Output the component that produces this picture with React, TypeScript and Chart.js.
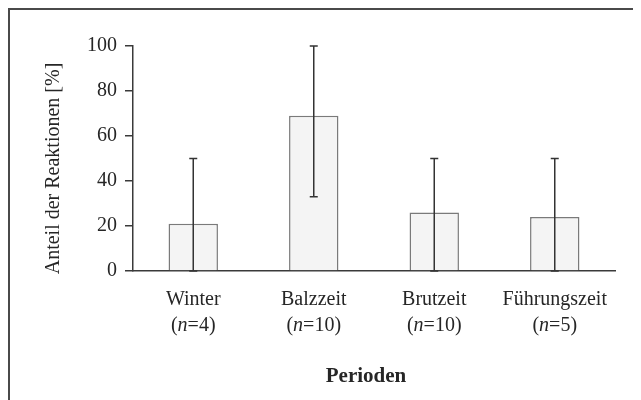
import React, { useEffect, useRef } from "react";
import { Chart, registerables } from "chart.js";

Chart.register(...registerables);

const categories = ["Winter", "Balzzeit", "Brutzeit", "Führungszeit"];
const sampleSizes = ["4", "10", "10", "5"];
const values = [21, 69, 26, 24];
const errorLow = [0, 33, 0, 0];
const errorHigh = [50, 100, 50, 50];
const yTicks = [0, 20, 40, 60, 80, 100];
const yTitle = "Anteil der Reaktionen [%]";
const xTitle = "Perioden";

const FONT = '"Liberation Serif", "Times New Roman", serif';
const TEXT = "#262626";
const AXIS = "#3a3a3a";

const customPlugin = {
  id: "customDraw",
  beforeDraw(chart: any) {
    const ctx = chart.ctx;
    ctx.save();
    ctx.fillStyle = "#ffffff";
    ctx.fillRect(0, 0, chart.width, chart.height);
    ctx.restore();
  },
  afterDatasetsDraw(chart: any) {
    const ctx = chart.ctx;
    const xs = chart.scales.x;
    const ys = chart.scales.y;
    ctx.save();
    ctx.strokeStyle = "#333333";
    ctx.lineWidth = 1.5;
    categories.forEach((_, i) => {
      const x = xs.getPixelForValue(i);
      const yl = ys.getPixelForValue(errorLow[i]);
      const yh = ys.getPixelForValue(errorHigh[i]);
      ctx.beginPath();
      ctx.moveTo(x, yl);
      ctx.lineTo(x, yh);
      ctx.moveTo(x - 4, yh);
      ctx.lineTo(x + 4, yh);
      ctx.moveTo(x - 4, yl);
      ctx.lineTo(x + 4, yl);
      ctx.stroke();
    });
    ctx.restore();
  },
  afterDraw(chart: any) {
    const ctx = chart.ctx;
    const xs = chart.scales.x;
    const area = chart.chartArea;
    ctx.save();
    // frame (top and left)
    ctx.strokeStyle = "#4a4a4a";
    ctx.lineWidth = 2;
    ctx.beginPath();
    ctx.moveTo(1, chart.height);
    ctx.lineTo(1, 1);
    ctx.lineTo(chart.width, 1);
    ctx.stroke();

    ctx.fillStyle = TEXT;
    ctx.textBaseline = "alphabetic";
    const normal = `20px ${FONT}`;
    const italic = `italic 20px ${FONT}`;
    categories.forEach((cat, i) => {
      const x = xs.getPixelForValue(i);
      ctx.font = normal;
      ctx.textAlign = "center";
      ctx.fillText(cat, x, area.bottom + 34);
      // second line: (n=..)
      const p1 = "(";
      const p2 = "n";
      const p3 = "=" + sampleSizes[i] + ")";
      ctx.font = normal;
      const w1 = ctx.measureText(p1).width;
      const w3 = ctx.measureText(p3).width;
      ctx.font = italic;
      const w2 = ctx.measureText(p2).width;
      let cx = x - (w1 + w2 + w3) / 2;
      const by = area.bottom + 60;
      ctx.textAlign = "left";
      ctx.font = normal;
      ctx.fillText(p1, cx, by);
      cx += w1;
      ctx.font = italic;
      ctx.fillText(p2, cx, by);
      cx += w2;
      ctx.font = normal;
      ctx.fillText(p3, cx, by);
    });

    // x title
    ctx.font = `bold 21px ${FONT}`;
    ctx.textAlign = "center";
    ctx.fillText(xTitle, (area.left + area.right) / 2 - 8, area.bottom + 111);

    // y title
    ctx.translate(51, (area.top + area.bottom) / 2 + 10);
    ctx.rotate(-Math.PI / 2);
    ctx.font = normal;
    ctx.textAlign = "center";
    ctx.fillText(yTitle, 0, 0);
    ctx.restore();
  },
};

export default function App() {
  const ref = useRef<HTMLCanvasElement | null>(null);
  useEffect(() => {
    if (!ref.current) return;
    const chart = new Chart(ref.current, {
      type: "bar",
      data: {
        labels: categories,
        datasets: [
          {
            data: values,
            backgroundColor: "#f4f4f4",
            borderColor: "#7a7a7a",
            borderWidth: 1.5,
            barPercentage: 0.41,
            categoryPercentage: 1,
          },
        ],
      },
      options: {
        responsive: false,
        animation: false,
        layout: { padding: { top: 38, right: 26, left: 0, bottom: 0 } },
        plugins: {
          legend: { display: false },
          tooltip: { enabled: false },
        },
        scales: {
          x: {
            offset: true,
            grid: { display: false },
            border: { display: true, color: AXIS, width: 1.5 },
            ticks: { display: false },
            afterFit: (s: any) => {
              s.height = 129;
            },
          },
          y: {
            min: 0,
            max: 100,
            afterBuildTicks: (s: any) => {
              s.ticks = yTicks.map((v) => ({ value: v }));
            },
            grid: {
              display: true,
              drawOnChartArea: false,
              drawTicks: true,
              tickLength: 8,
              color: AXIS,
              lineWidth: 1.5,
            },
            border: { display: true, color: AXIS, width: 1.5 },
            ticks: {
              padding: 8,
              color: TEXT,
              font: { family: FONT, size: 20 },
            },
            afterFit: (s: any) => {
              s.width = 125;
            },
          },
        },
      },
      plugins: [customPlugin],
    } as any);
    return () => chart.destroy();
  }, []);
  return <canvas ref={ref} width={633} height={392} style={{ display: "block" }} />;
}
